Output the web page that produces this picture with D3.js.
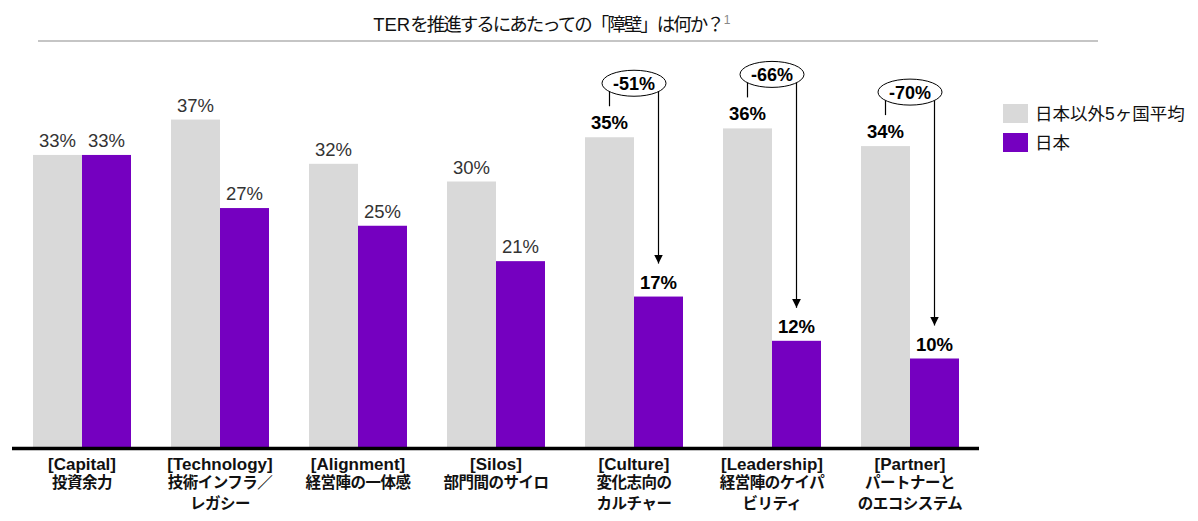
<!DOCTYPE html>
<html><head><meta charset="utf-8">
<script src="https://cdn.jsdelivr.net/npm/d3@7"></script>
<style>
body{margin:0;background:#fff;}
svg{display:block;}
</style></head>
<body>
<svg id="chart" width="1198" height="521"></svg>
<script>
const categories = ["Capital","Technology","Alignment","Silos","Culture","Leadership","Partner"];
const categoryLabels = [
  ["[Capital]","投資余力"],
  ["[Technology]","技術インフラ／","レガシー"],
  ["[Alignment]","経営陣の一体感"],
  ["[Silos]","部門間のサイロ"],
  ["[Culture]","変化志向の","カルチャー"],
  ["[Leadership]","経営陣のケイパ","ビリティ"],
  ["[Partner]","パートナーと","のエコシステム"]
];
const seriesNames = ["日本以外5ヶ国平均","日本"];
const othersAvg = [33,37,32,30,35,36,34];
const japan = [33,27,25,21,17,12,10];
const highlighted = [false,false,false,false,true,true,true];
const gaps = [null,null,null,null,"-51%","-66%","-70%"];
const titleLatin = "TER";
const titleRest = "を推進するにあたっての「障壁」は何か？";
const titleNote = "1";

const colors = ["#d9d9d9","#7500c0"];
const svg = d3.select("#chart");
const FONT = "'Liberation Sans','Noto Sans CJK JP',Arial,sans-serif";

const x = d3.scaleBand().domain(categories).range([13,979]).paddingInner(40/138).paddingOuter(20/138);
const xs = d3.scaleBand().domain([0,1]).range([0,x.bandwidth()]);
const y = d3.scaleLinear().domain([0,40]).range([447,447-354]);

svg.append("defs").append("marker").attr("id","arr").attr("viewBox","0 0 10 10")
  .attr("refX",10).attr("refY",5).attr("markerWidth",9).attr("markerHeight",10)
  .attr("markerUnits","userSpaceOnUse").attr("orient","auto")
  .append("path").attr("d","M0,0 L10,5 L0,10 Z").attr("fill","#000");

// title
const t = svg.append("text").attr("x",548).attr("y",31).attr("text-anchor","middle")
  .attr("font-family",FONT).attr("font-size",18.5).attr("fill","#111");
t.append("tspan").attr("letter-spacing","0px").text(titleLatin);
t.append("tspan").attr("letter-spacing","-2px").text(titleRest);
const tb = t.node().getBBox();
svg.append("text").attr("x",tb.x+tb.width+1).attr("y",24).attr("font-family",FONT).attr("font-size",12).attr("fill","#888").text(titleNote);
svg.append("line").attr("x1",38).attr("x2",1098).attr("y1",41).attr("y2",41).attr("stroke","#8c8c8c").attr("stroke-width",1.2);

const data = categories.map((c,i)=>({c,i,vals:[othersAvg[i],japan[i]]}));
const g = svg.append("g");
data.forEach(d=>{
  d.vals.forEach((v,s)=>{
    const bx = x(d.c)+xs(s);
    g.append("rect").attr("x",bx).attr("y",y(v)).attr("width",xs.bandwidth()).attr("height",y(0)-y(v)).attr("fill",colors[s]);
    g.append("text").attr("x",bx+xs.bandwidth()/2).attr("y",y(v)-8).attr("text-anchor","middle")
      .attr("font-family",FONT).attr("font-size",18.5)
      .attr("font-weight",highlighted[d.i]?"bold":"normal")
      .attr("fill",highlighted[d.i]?"#000":"#333").text(v+"%");
  });
  if(gaps[d.i]){
    const cxL = x(d.c)+xs(0)+xs.bandwidth()/2;
    const cxR = x(d.c)+xs(1)+xs.bandwidth()/2;
    const cx = (cxL+cxR)/2;
    const cy = y(d.vals[0])-54;
    const rx=32, ry=13;
    const ey = dx=> cy + ry*Math.sqrt(1-(dx/rx)*(dx/rx));
    g.append("line").attr("x1",cxL).attr("x2",cxL).attr("y1",ey(cxL-cx)).attr("y2",y(d.vals[0])-31).attr("stroke","#000").attr("stroke-width",1.2);
    g.append("line").attr("x1",cxR).attr("x2",cxR).attr("y1",ey(cxR-cx)).attr("y2",y(d.vals[1])-33).attr("stroke","#000").attr("stroke-width",1.2).attr("marker-end","url(#arr)");
    g.append("ellipse").attr("cx",cx).attr("cy",cy).attr("rx",rx).attr("ry",ry).attr("fill","#fff").attr("stroke","#000").attr("stroke-width",1);
    g.append("text").attr("x",cx).attr("y",cy+6.5).attr("text-anchor","middle").attr("font-family",FONT)
      .attr("font-size",18).attr("font-weight","bold").attr("fill","#000").text(gaps[d.i]);
  }
  const lines = categoryLabels[d.i];
  const lbl = g.append("text").attr("text-anchor","middle").attr("font-family",FONT).attr("font-weight","bold").attr("fill","#111");
  lines.forEach((ln,k)=>{
    lbl.append("tspan").attr("x",x(d.c)+x.bandwidth()/2).attr("y",[470,488,509][k])
      .attr("font-size",k===0?17:15.5).attr("letter-spacing",k===0?"0px":"-0.5px").text(ln);
  });
});

g.append("line").attr("x1",12).attr("x2",979).attr("y1",y(0)+1.5).attr("y2",y(0)+1.5).attr("stroke","#000").attr("stroke-width",3.5);

const lg = svg.append("g");
seriesNames.forEach((n,s)=>{
  lg.append("rect").attr("x",1003).attr("y",104+s*29).attr("width",25).attr("height",19).attr("fill",colors[s]);
  lg.append("text").attr("x",1035).attr("y",120+s*29).attr("font-family",FONT).attr("font-size",17.5).attr("fill","#111").text(n);
});
</script>
</body></html>
